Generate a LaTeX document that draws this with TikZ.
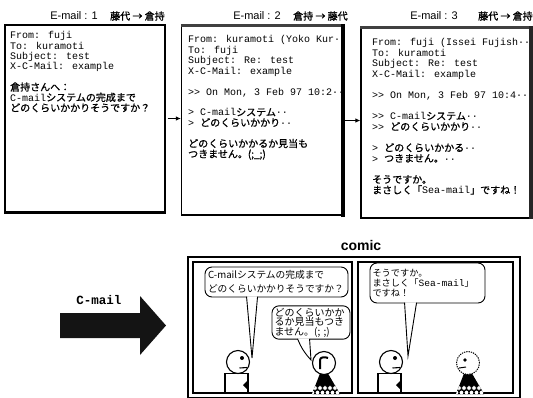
\documentclass[tikz,border=0pt]{standalone}
\usepackage{fontspec}
\setmainfont{Liberation Sans}
\newfontfamily\mono{Liberation Mono}
\newfontfamily\jp{Noto Sans CJK JP}
\newfontfamily\jpb{Noto Sans CJK JP}[FakeBold=1]
\usetikzlibrary{calc,arrows.meta}
\newcommand\tightlines{\lineskiplimit-20pt\relax}

\tikzset{
  mailbox/.style={draw, line width=1.2pt, inner sep=0pt, fill=white},
  mailtext/.style={anchor=north west, inner sep=0pt, align=left},
  ttl/.style={font=\fontsize{11}{12}\selectfont, inner sep=0pt},
  ttlj/.style={font=\jpb\fontsize{10}{12}\selectfont, inner sep=0pt, anchor=west},
  hop/.style={-{Latex[length=5pt,width=4.5pt]}, line width=1pt, shorten <=2pt},
  panel/.style={draw, line width=1.2pt, inner sep=0pt},
  bubble/.style={draw, line width=0.9pt, rounded corners=7pt, fill=white,
    inner sep=2pt, align=left},
  tail/.style={line width=0.9pt},
  % square-bodied character, facing right
  boy/.pic={
    \draw[line width=1.1pt, fill=white] (-13,11.5) rectangle (10,31);
    \fill (10,18) -- (5,23) -- (10,28) -- cycle;
    \draw[line width=1.1pt, fill=white] (0,0) circle[radius=11.5pt];
    \fill (4,-4) circle[radius=2pt];
    \draw[line width=1.1pt] (1.5,6) -- (9,5.5);
  },
  % character in a patterned dress: dark cape over a scaled skirt
  gown/.pic={
    \fill (-4,10.5) -- (4,10.5) -- (16,31) -- (-12,31) -- cycle;
    \begin{scope}
      \clip (-4,10.5) -- (4,10.5) -- (16,31) -- (-12,31) -- cycle;
      \foreach \u in {-14,-9,...,20} {
        \draw[fill=white, line width=0.7pt] (\u,25) circle[radius=2.4pt];
        \draw[fill=white, line width=0.7pt] (\u,34) circle[radius=2.4pt];
      }
      \foreach \u in {-11.5,-6.5,...,20}
        \draw[fill=white, line width=0.7pt] (\u,29.5) circle[radius=2.4pt];
    \end{scope}
  },
}

\begin{document}
\begin{tikzpicture}[x=1pt,y=-1pt]
\useasboundingbox (0,0) rectangle (533,397);

% ---------- the three mails ----------
\node[mailbox, minimum width=160, minimum height=187] (m1) at (85,118.5) {};
\node[mailbox, minimum width=161, minimum height=189] (m2) at (262,120.5) {};
\node[mailbox, minimum width=169, minimum height=190] (m3) at (445.5,123) {};

% heavier edges
\draw[line width=3pt, black!75] (m2.north west) -- (m2.north east);
\draw[line width=4pt] ([yshift=1.5pt]m2.north east) -- ([yshift=-1pt]m2.south east);
\draw[line width=3pt, black!75] (m3.north west) -- (m3.north east);
\draw[line width=4pt, black!85] ([yshift=1.5pt]m3.north east) -- (m3.south east);
\draw[line width=1.8pt] (m1.north west) -- (m1.south west) -- (m1.south east);

% mail headers
\node[ttl] (t1a) at (74,16) {E-mail : 1};
\node[ttlj] (t1b) at (110,16) {藤代 → 倉持};
\node[ttl] (t2a) at (257,16) {E-mail : 2};
\node[ttlj] (t2b) at (293,16) {倉持 → 藤代};
\node[ttl] (t3a) at (434,16) {E-mail : 3};
\node[ttlj] (t3b) at (478,16) {藤代 → 倉持};

% mail bodies
\node[mailtext, font=\mono\fontsize{10}{10.4}\selectfont\tightlines]
  (m1txt) at (10,31.3) {From: fuji\\
To: kuramoti\\
Subject: test\\
X-C-Mail: example\\
\mbox{}\\
{\jpb 倉持さんへ：}\\
C-mail{\jpb システムの完成まで}\\
{\jpb どのくらいかかりそうですか？}};

\node[mailtext, font=\mono\fontsize{10}{10.45}\selectfont\tightlines]
  (m2txt) at (188,35.3) {From: kuramoti (Yoko Kur··\\
To: fuji\\
Subject: Re: test\\
X-C-Mail: example\\
\mbox{}\\
>> On Mon, 3 Feb 97 10:2··\\
\mbox{}\\
> C-mail{\jpb システム}··\\
> {\jpb どのくらいかかり}··\\
\mbox{}\\
{\jpb どのくらいかかるか見当も}\\
{\jpb つきません。(;\_;)}};

\node[mailtext, font=\mono\fontsize{10}{10.57}\selectfont\tightlines]
  (m3txt) at (372,38.3) {From: fuji (Issei Fujish··\\
To: kuramoti\\
Subject: Re: test\\
X-C-Mail: example\\
\mbox{}\\
>> On Mon, 3 Feb 97 10:4··\\
\mbox{}\\
>> C-mail{\jpb システム}··\\
>> {\jpb どのくらいかかり}··\\
\mbox{}\\
> {\jpb どのくらいかかる}··\\
> {\jpb つきません。}··\\
\mbox{}\\
{\jpb そうですか。}\\
{\jpb まさしく「}Sea-mail{\jpb 」ですね！}};

% replies
\draw[hop] (m1.east) -- (m1.east -| m2.west);
\draw[hop] (m2.east) -- (m2.east -| m3.west);

% ---------- conversion arrow ----------
\node[font=\mono\bfseries\fontsize{12.5}{14}\selectfont, inner sep=0pt] (cmail) at (99,300) {C-mail};
\fill[black!92] (60,313) -- (140,313) -- (140,296) -- (166,325.5) -- (140,355)
  -- (140,338) -- (60,338) -- cycle;

% ---------- comic ----------
\node[font=\bfseries\fontsize{14}{16}\selectfont, inner sep=0pt] (comic) at (361,245) {comic};
\node[panel, minimum width=332, minimum height=141] (frame) at (354,327.5) {};
\node[panel, minimum width=159, minimum height=131] (pa) at (272.5,327.5) {};
\node[panel, minimum width=155, minimum height=131] (pb) at (435.5,327.5) {};

% characters
\pic at (238,362) {boy};
\pic at (324,363) {gown};
\draw[line width=1.1pt, fill=white] (324,363) circle[radius=11.5pt];
\draw[line width=2pt] (320,369) -- (320,360) .. controls (320,357) and (325,356.5) .. (328,358);

\pic at (391,362) {boy};
\pic at (468,363) {gown};
\draw[line width=1pt, fill=white, dash pattern=on 1.3pt off 1pt] (468,363) circle[radius=11.5pt];
\fill (465,360) circle[radius=1.8pt];
\draw[line width=1pt] (459,368) -- (466,367);

% speech bubbles
\node[bubble, minimum width=143, minimum height=30, text width=137,
  font=\jp\fontsize{9.7}{14}\selectfont\tightlines] (b1) at (276.5,282)
  {C-mailシステムの完成まで\\どのくらいかかりそうですか？};
\node[bubble, minimum width=78, minimum height=31, text width=73,
  font=\jp\fontsize{10}{9.6}\selectfont\tightlines] (b2) at (311,322.5)
  {どのくらいかか\\るか見当もつき\\ません。(; ;)};
\node[bubble, minimum width=115, minimum height=40, text width=110,
  font=\jp\fontsize{9.2}{9.6}\selectfont\tightlines] (b3) at (427.5,283)
  {そうですか。\\まさしく「{\mono\fontsize{9.6}{9.6}\selectfont Sea-mail}」\\ですね！};

\coordinate (tip1) at (252,358);
\coordinate (tip2) at (311,360);
\coordinate (tip3) at (408,356);

\fill[white] ($(b1.south west)+(42,-1.2)$) -- (tip1) -- ($(b1.south west)+(53,-1.2)$) -- cycle;
\draw[tail] ($(b1.south west)+(42,-0.8)$) -- (tip1) -- ($(b1.south west)+(53,-0.8)$);
\fill[white] ($(b2.south west)+(26,-1.2)$) to[bend right=10] (tip2) -- ($(b2.south west)+(38,-1.2)$) -- cycle;
\draw[tail] ($(b2.south west)+(26,-0.8)$) to[bend right=10] (tip2) -- ($(b2.south west)+(38,-0.8)$);
\fill[white] ($(b3.south west)+(35,-1.2)$) -- (tip3) -- ($(b3.south west)+(47,-1.2)$) -- cycle;
\draw[tail] ($(b3.south west)+(35,-0.8)$) -- (tip3) -- ($(b3.south west)+(47,-0.8)$);

\end{tikzpicture}
\end{document}
